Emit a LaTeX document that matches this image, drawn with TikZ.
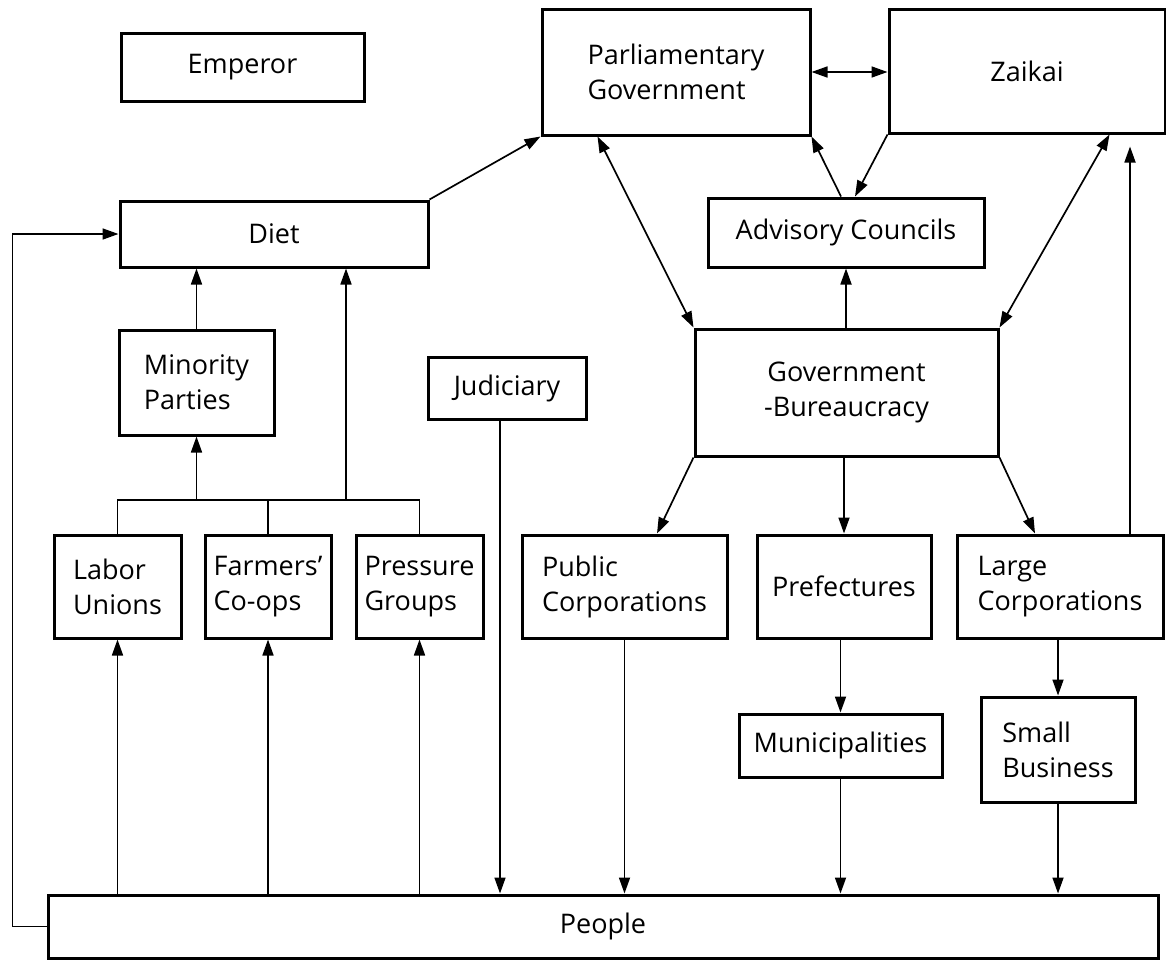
\documentclass[tikz,border=0pt]{standalone}
\usepackage{fontspec}
\setmainfont{Open Sans}
\usetikzlibrary{arrows.meta}
\begin{document}
\begin{tikzpicture}[x=1pt,y=-1pt,
 box/.style={draw, line width=3pt, inner sep=0pt, font=\fontsize{27}{35}\selectfont, align=center},
 line/.style={line width=1.7pt},
 arr/.style={line, -{Triangle[length=16pt,width=11pt]}},
 darr/.style={line, {Triangle[length=16pt,width=11pt]}-{Triangle[length=16pt,width=11pt]}}]
\useasboundingbox (0,0) rectangle (1166,961);
% boxes
\node[box, minimum width=243, minimum height=68] (Emperor) at (242.5,67) {Emperor};
\node[box, minimum width=268, minimum height=126, align=left] (Parl) at (676,72) {Parliamentary\\Government};
\node[box, minimum width=276, minimum height=124] (Zaikai) at (1027,71) {Zaikai};
\node[box, minimum width=308, minimum height=66] (Diet) at (274,234) {Diet};
\node[box, minimum width=276, minimum height=69] (Advisory) at (846,232.5) {Advisory Councils};
\node[box, minimum width=155, minimum height=105, align=left] (Minority) at (196.5,382.5) {Minority\\Parties};
\node[box, minimum width=158, minimum height=62] (Judiciary) at (507,388) {Judiciary};
\node[box, minimum width=303, minimum height=127] (GB) at (846.5,392.5) {Government\\-Bureaucracy};
\node[box, minimum width=127, minimum height=103, align=left] (Labor) at (117.5,586.5) {Labor\\Unions};
\node[box, minimum width=126, minimum height=103, align=left] (Farmers) at (268,586.5) {Farmers'\\Co-ops};
\node[box, minimum width=127, minimum height=103, align=left] (Pressure) at (419.5,586.5) {Pressure\\Groups};
\node[box, minimum width=205, minimum height=103, align=left] (Public) at (624.5,586.5) {Public\\Corporations};
\node[box, minimum width=174, minimum height=103] (Pref) at (844,586.5) {Prefectures};
\node[box, minimum width=206, minimum height=103, align=left] (Large) at (1060,586.5) {Large\\Corporations};
\node[box, minimum width=203, minimum height=63] (Muni) at (840.5,745.5) {Municipalities};
\node[box, minimum width=154, minimum height=105, align=left] (Small) at (1058,749.5) {Small\\Business};
\node[box, minimum width=1110, minimum height=63] (People) at (603,926.5) {People};
% upper connectors
\draw[arr] (Diet.north east) -- (Parl.south west);
\draw[darr] (Parl.east) -- (Zaikai.west |- Parl.east);
\draw[darr] ([xshift=57pt]Parl.south west) -- (GB.north west);
\draw[darr] ([xshift=-57pt]Zaikai.south east) -- (GB.north east);
\draw[arr] ([xshift=-5pt]Advisory.north) -- (Parl.south east);
\draw[arr] (Zaikai.south west) -- ([xshift=9pt]Advisory.north);
\draw[arr] (GB.north -| Advisory.south) -- (Advisory.south);
% from bureaucracy
\draw[arr] (GB.south west) -- ([xshift=32.5pt]Public.north);
\draw[arr] (GB.south -| Pref.north) -- (Pref.north);
\draw[arr] (GB.south east) -- ([xshift=-25pt]Large.north);
\draw[arr] ([xshift=70pt]Large.north) -- ([xshift=70pt,yshift=-12pt]Large.north |- Zaikai.south);
\draw[arr] (Pref.south -| Muni.north) -- (Muni.north);
\draw[arr] (Large.south -| Small.north) -- (Small.north);
% down to people
\draw[arr] (Public.south) -- (Public.south |- People.north);
\draw[arr] (Muni.south) -- (Muni.south |- People.north);
\draw[arr] (Small.south) -- (Small.south |- People.north);
\draw[arr] ([xshift=-7pt]Judiciary.south) -- ([xshift=-7pt]Judiciary.south |- People.north);
% up from people
\draw[arr] (People.north -| Labor.south) -- (Labor.south);
\draw[arr] (People.north -| Farmers.south) -- (Farmers.south);
\draw[arr] (People.north -| Pressure.south) -- (Pressure.south);
% bracket
\coordinate (bar) at (0,500);
\coordinate (dietin) at (346,500);
\draw[line] (Labor.north) -- (Labor.north |- bar) -- (Pressure.north |- bar) -- (Pressure.north);
\draw[line] (Farmers.north) -- (Farmers.north |- bar);
\draw[arr] (Minority.south |- bar) -- (Minority.south);
\draw[arr] (dietin) -- (dietin |- Diet.south);
\draw[arr] (Minority.north) -- (Minority.north |- Diet.south);
% feedback
\draw[arr] (People.west) -- ++(-34,0) |- (Diet.west);
\end{tikzpicture}
\end{document}
